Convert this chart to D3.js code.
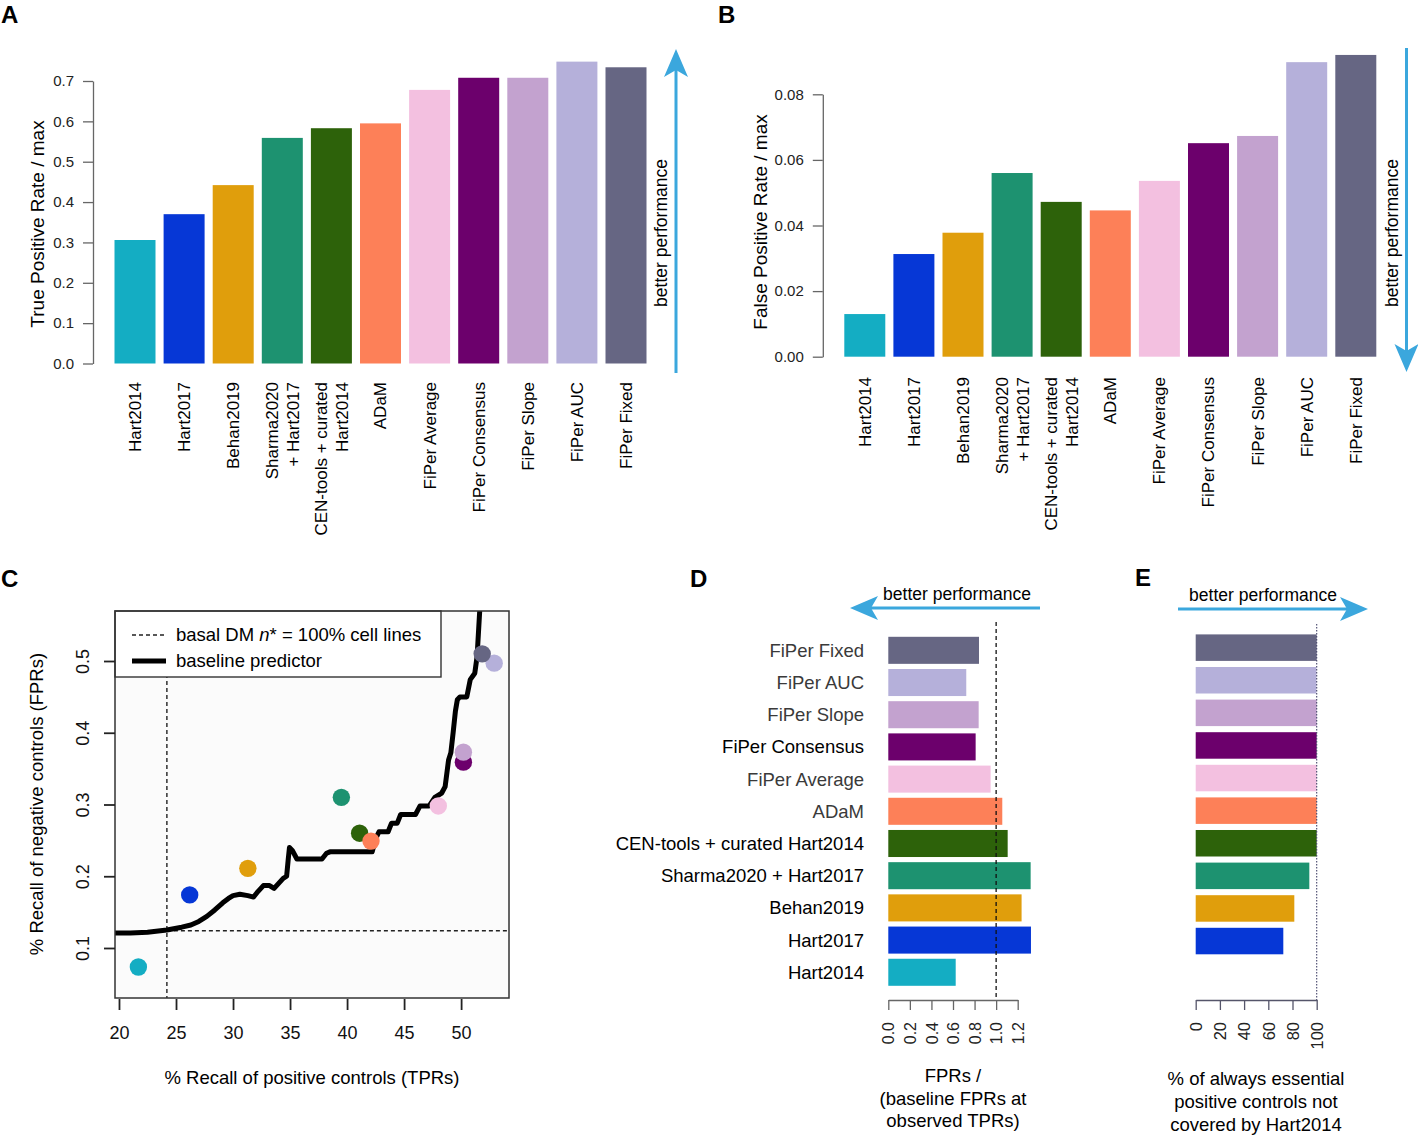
<!DOCTYPE html>
<html lang="en">
<head>
<meta charset="utf-8" />
<title>Predictor performance</title>
<script src="https://d3js.org/d3.v7.min.js"></script>
<style>
  body { margin: 0; background: #fff; }
  svg { display: block; font-family: "Liberation Sans", Arial, Helvetica, sans-serif; }
</style>
</head>
<body>
<svg width="1418" height="1135"></svg>
<script>
// methods, in the order used by panels A, B and C
const methods = ["Hart2014", "Hart2017", "Behan2019", "Sharma2020 + Hart2017",
  "CEN-tools + curated Hart2014", "ADaM", "FiPer Average", "FiPer Consensus",
  "FiPer Slope", "FiPer AUC", "FiPer Fixed"];
// bar labels of A and B are broken on two lines for two methods
const methodLines = [["Hart2014"], ["Hart2017"], ["Behan2019"], ["Sharma2020", "+ Hart2017"],
  ["CEN-tools + curated", "Hart2014"], ["ADaM"], ["FiPer Average"], ["FiPer Consensus"],
  ["FiPer Slope"], ["FiPer AUC"], ["FiPer Fixed"]];
const colors = ["#14adc3", "#0637d6", "#e09e0c", "#1d9270", "#2d620a", "#fd8058",
  "#f3c0e0", "#6c006c", "#c3a2cf", "#b5b0da", "#666683"];

// A: true positive rate / max
const tprMax = [0.306, 0.370, 0.442, 0.559, 0.583, 0.595, 0.678, 0.708, 0.708, 0.748, 0.734];
// B: false positive rate / max
const fprMax = [0.0130, 0.0313, 0.0378, 0.0560, 0.0472, 0.0446, 0.0536, 0.0651, 0.0673, 0.0898, 0.0920];
// C: recall of positive controls (x) and negative controls (y)
const recallPos = [21.7, 26.2, 31.3, 39.5, 41.1, 42.1, 48.0, 50.2, 50.2, 52.9, 51.85];
const recallNeg = [0.0735, 0.174, 0.211, 0.310, 0.260, 0.249, 0.298, 0.359, 0.373, 0.497, 0.510];
// C: baseline predictor curve
const baselineTPR = [19.65, 21, 22.5, 24.2, 25.5, 26.3, 27, 27.7, 28.4, 29.1, 29.6, 30.0, 30.6, 31.3, 31.8,
  32.2, 32.66, 33.2, 33.6, 34.0, 34.4, 34.7, 34.85, 34.95, 35.2, 35.6, 37.8, 38.2, 38.5, 42.2, 42.5, 42.8,
  43.6, 43.9, 44.4, 44.7, 46.0, 46.4, 47.2, 47.7, 48.3, 48.6, 48.9, 49.1, 49.3, 49.5, 49.67, 49.9, 50.5,
  50.8, 51.2, 51.4, 51.65];
const baselineFPR = [0.121, 0.121, 0.122, 0.125, 0.129, 0.132, 0.137, 0.144, 0.153, 0.163, 0.169, 0.173, 0.175, 0.173, 0.171,
  0.179, 0.187, 0.187, 0.183, 0.190, 0.197, 0.200, 0.225, 0.240, 0.236, 0.224, 0.224, 0.232, 0.234, 0.234, 0.252, 0.262,
  0.262, 0.274, 0.274, 0.286, 0.286, 0.298, 0.298, 0.310, 0.316, 0.325, 0.362, 0.372, 0.400, 0.430, 0.446, 0.450, 0.450,
  0.474, 0.483, 0.506, 0.575];
const basalTPR = 24.2, basalFPR = 0.124;
// D: FPRs / baseline FPRs at observed TPRs
const fprRatio = [0.625, 1.323, 1.236, 1.320, 1.107, 1.057, 0.949, 0.810, 0.838, 0.723, 0.841];
// E: % of always essential positive controls not covered by Hart2014
const pctNotCovered = [0, 72.4, 81.5, 93.9, 100, 100, 100, 100, 100, 99.7, 100];

const svg = d3.select("svg");
const arrowBlue = "#3ba7dd";
const axisGrey = "#666";

function panelLabel(t, x, y) {
  svg.append("text").attr("x", x).attr("y", y).attr("font-size", 24)
    .attr("font-weight", "bold").text(t);
}

// notched arrow from (x1,y1) to tip (x2,y2)
function arrow(x1, y1, x2, y2) {
  const a = Math.atan2(y2 - y1, x2 - x1), L = 28, W = 12, notch = 21;
  const ux = Math.cos(a), uy = Math.sin(a), px = -uy, py = ux;
  const bx = x2 - ux * L, by = y2 - uy * L;
  svg.append("line").attr("x1", x1).attr("y1", y1)
    .attr("x2", x2 - ux * notch).attr("y2", y2 - uy * notch)
    .attr("stroke", arrowBlue).attr("stroke-width", 3);
  svg.append("path")
    .attr("d", `M${x2},${y2}L${bx + px * W},${by + py * W}L${x2 - ux * notch},${y2 - uy * notch}L${bx - px * W},${by - py * W}Z`)
    .attr("fill", arrowBlue);
}

function styleAxis(g, col) {
  g.select(".domain").attr("stroke", col).attr("stroke-width", 1.3);
  g.selectAll(".tick line").attr("stroke", col).attr("stroke-width", 1.3);
  g.selectAll(".tick text").attr("fill", "#222").attr("font-family", null);
}

// ---------- A and B: vertical bars ----------
function barPanel(vals, range, y0, yTop, maxVal, nTicks, fmt, labelY, title, titleX, titleY) {
  const x = d3.scaleBand().domain(methods).range(range).paddingInner(0.165).paddingOuter(0);
  const y = d3.scaleLinear().domain([0, maxVal]).range([y0, yTop]);
  const g = svg.append("g");

  g.selectAll("rect").data(vals).join("rect")
    .attr("x", (d, i) => x(methods[i]))
    .attr("y", d => y(d))
    .attr("width", x.bandwidth())
    .attr("height", d => y0 - y(d))
    .attr("fill", (d, i) => colors[i]);

  const ax = g.append("g").attr("transform", `translate(${range[0] - 21.5},0)`)
    .call(d3.axisLeft(y).ticks(nTicks).tickFormat(d3.format(fmt)).tickSize(10).tickPadding(9).tickSizeOuter(0));
  styleAxis(ax, axisGrey);
  ax.selectAll(".tick text").attr("font-size", 15);

  methodLines.forEach((lines, i) => {
    const cx = x(methods[i]) + x.bandwidth() / 2;
    lines.forEach((ln, j) => {
      const off = (j - (lines.length - 1) / 2) * 21;
      g.append("text")
        .attr("transform", `translate(${cx + off},${labelY}) rotate(-90)`)
        .attr("text-anchor", "end").attr("dy", "0.35em")
        .attr("font-size", 17).text(ln);
    });
  });

  g.append("text").attr("transform", `translate(${titleX},${titleY}) rotate(-90)`)
    .attr("text-anchor", "middle").attr("dy", "0.35em").attr("font-size", 19).text(title);
}

barPanel(tprMax, [114.5, 646.5], 363.5, 81, 0.7, 7, ".1f", 382, "True Positive Rate / max", 37, 224);
barPanel(fprMax, [844.3, 1376.3], 356.7, 94.3, 0.08, 4, ".2f", 377, "False Positive Rate / max", 760, 222);

panelLabel("A", 1, 23);
panelLabel("B", 718, 23);

arrow(676, 373, 676, 49);
svg.append("text").attr("transform", "translate(661,233) rotate(-90)")
  .attr("text-anchor", "middle").attr("dy", "0.35em").attr("font-size", 17.5).text("better performance");
arrow(1406.5, 48, 1406.5, 372);
svg.append("text").attr("transform", "translate(1392,233) rotate(-90)")
  .attr("text-anchor", "middle").attr("dy", "0.35em").attr("font-size", 17.5).text("better performance");

// ---------- C: recall scatter ----------
const cx = d3.scaleLinear().domain([19.65, 54.2]).range([115, 509]);
const cy = d3.scaleLinear().domain([0.0303, 0.5697]).range([998, 611]);
const gc = svg.append("g");

gc.append("defs").append("clipPath").attr("id", "clipC").append("rect")
  .attr("x", 115).attr("y", 611).attr("width", 394).attr("height", 387);
gc.append("rect").attr("x", 115).attr("y", 611).attr("width", 394).attr("height", 387).attr("fill", "#fbfbfb");

const plotC = gc.append("g").attr("clip-path", "url(#clipC)");
plotC.append("line").attr("x1", cx(basalTPR)).attr("x2", cx(basalTPR))
  .attr("y1", cy.range()[1]).attr("y2", cy.range()[0])
  .attr("stroke", "#222").attr("stroke-width", 1.4).attr("stroke-dasharray", "4,3");
plotC.append("line").attr("x1", cx(basalTPR)).attr("x2", cx.range()[1])
  .attr("y1", cy(basalFPR)).attr("y2", cy(basalFPR))
  .attr("stroke", "#222").attr("stroke-width", 1.4).attr("stroke-dasharray", "4,3");
plotC.append("path")
  .datum(baselineTPR.map((t, i) => [t, baselineFPR[i]]))
  .attr("d", d3.line().x(d => cx(d[0])).y(d => cy(d[1])))
  .attr("fill", "none").attr("stroke", "#000").attr("stroke-width", 5).attr("stroke-linejoin", "round");
plotC.selectAll("circle").data(recallPos).join("circle")
  .attr("cx", d => cx(d)).attr("cy", (d, i) => cy(recallNeg[i]))
  .attr("r", 8.7).attr("fill", (d, i) => colors[i]);

// legend
const leg = gc.append("g");
leg.append("rect").attr("x", 115).attr("y", 611).attr("width", 326).attr("height", 66)
  .attr("fill", "#fff").attr("stroke", "#333").attr("stroke-width", 1.4);
leg.append("line").attr("x1", 132).attr("x2", 166).attr("y1", 635).attr("y2", 635)
  .attr("stroke", "#222").attr("stroke-width", 1.4).attr("stroke-dasharray", "4,3");
leg.append("line").attr("x1", 132).attr("x2", 166).attr("y1", 661).attr("y2", 661)
  .attr("stroke", "#000").attr("stroke-width", 5);
const t1 = leg.append("text").attr("x", 176).attr("y", 635).attr("dy", "0.35em").attr("font-size", 18.5);
t1.append("tspan").text("basal DM ");
t1.append("tspan").attr("font-style", "italic").text("n");
t1.append("tspan").text("* = 100% cell lines");
leg.append("text").attr("x", 176).attr("y", 661).attr("dy", "0.35em").attr("font-size", 18.5).text("baseline predictor");

gc.append("rect").attr("x", 115).attr("y", 611).attr("width", 394).attr("height", 387)
  .attr("fill", "none").attr("stroke", "#333").attr("stroke-width", 1.5);

const axCx = gc.append("g").attr("transform", "translate(0,999)")
  .call(d3.axisBottom(cx).tickValues([20, 25, 30, 35, 40, 45, 50]).tickFormat(d3.format("d")).tickSize(11).tickPadding(16));
axCx.select(".domain").remove();
axCx.selectAll(".tick line").attr("stroke", "#222").attr("stroke-width", 1.8);
axCx.selectAll(".tick text").attr("fill", "#111").attr("font-size", 18).attr("font-family", null);

const axCy = gc.append("g").attr("transform", "translate(115,0)")
  .call(d3.axisLeft(cy).tickValues([0.1, 0.2, 0.3, 0.4, 0.5]).tickFormat(d3.format(".1f")).tickSize(11));
axCy.select(".domain").remove();
axCy.selectAll(".tick line").attr("stroke", "#222").attr("stroke-width", 1.8);
axCy.selectAll(".tick text").attr("fill", "#111").attr("font-size", 18).attr("font-family", null)
  .attr("x", null).attr("dy", "0.35em").attr("text-anchor", "middle")
  .attr("transform", "translate(-32,0) rotate(-90)");

gc.append("text").attr("x", 312).attr("y", 1078).attr("dy", "0.35em").attr("text-anchor", "middle")
  .attr("font-size", 18.5).text("% Recall of positive controls (TPRs)");
gc.append("text").attr("transform", "translate(37,804) rotate(-90)").attr("text-anchor", "middle")
  .attr("dy", "0.35em").attr("font-size", 18.5).text("% Recall of negative controls (FPRs)");
panelLabel("C", 1, 587);

// ---------- D: FPR ratio ----------
const order = methods.slice().reverse();
const lightLabels = new Set(["FiPer Fixed", "FiPer AUC", "FiPer Slope", "FiPer Average", "ADaM"]);
const dY = d3.scaleBand().domain(order).range([636.8, 985.8]).paddingInner(0.16).paddingOuter(0);
const dX = d3.scaleLinear().domain([0, 1.2]).range([888.3, 1017.7]);
const gd = svg.append("g");

gd.selectAll("rect").data(fprRatio).join("rect")
  .attr("x", dX(0)).attr("y", (d, i) => dY(methods[i]))
  .attr("width", d => dX(d) - dX(0)).attr("height", dY.bandwidth())
  .attr("fill", (d, i) => colors[i]);
gd.append("line").attr("x1", dX(1)).attr("x2", dX(1)).attr("y1", 622).attr("y2", 1000)
  .attr("stroke", "#111").attr("stroke-width", 1.3).attr("stroke-dasharray", "4,3");
gd.selectAll("text.lab").data(methods).join("text").attr("class", "lab")
  .attr("x", 864).attr("y", d => dY(d) + dY.bandwidth() / 2).attr("dy", "0.35em")
  .attr("text-anchor", "end").attr("font-size", 18.5)
  .attr("fill", d => lightLabels.has(d) ? "#3a3a3a" : "#000")
  .text(d => d);

const axD = gd.append("g").attr("transform", "translate(0,1000)")
  .call(d3.axisBottom(dX).tickValues([0, 0.2, 0.4, 0.6, 0.8, 1.0, 1.2]).tickFormat(d3.format(".1f")).tickSize(10).tickSizeOuter(0));
styleAxis(axD, axisGrey);
axD.selectAll(".tick text").attr("font-size", 16).attr("y", null).attr("dy", "0.35em")
  .attr("text-anchor", "end").attr("transform", "translate(0,22) rotate(-90)");

["FPRs /", "(baseline FPRs at", "observed TPRs)"].forEach((s, i) => {
  gd.append("text").attr("x", 953).attr("y", 1076 + i * 22.5).attr("dy", "0.35em")
    .attr("text-anchor", "middle").attr("font-size", 18.5).text(s);
});
panelLabel("D", 690, 587);
arrow(1040, 608, 850, 608);
svg.append("text").attr("x", 957).attr("y", 600).attr("text-anchor", "middle")
  .attr("font-size", 17.5).text("better performance");

// ---------- E: % not covered by Hart2014 ----------
const eY = d3.scaleBand().domain(order).range([634.4, 986.9]).paddingInner(0.187).paddingOuter(0);
const eX = d3.scaleLinear().domain([0, 100]).range([1195.7, 1316.7]);
const ge = svg.append("g");

ge.selectAll("rect").data(pctNotCovered).join("rect")
  .attr("x", eX(0)).attr("y", (d, i) => eY(methods[i]))
  .attr("width", d => eX(d) - eX(0)).attr("height", eY.bandwidth())
  .attr("fill", (d, i) => colors[i]);
ge.append("line").attr("x1", eX(100)).attr("x2", eX(100)).attr("y1", 624).attr("y2", 1000)
  .attr("stroke", "#44446a").attr("stroke-width", 1.1).attr("stroke-dasharray", "1.5,1.5");

const axE = ge.append("g").attr("transform", "translate(0,1000)")
  .call(d3.axisBottom(eX).tickValues([0, 20, 40, 60, 80, 100]).tickFormat(d3.format("d")).tickSize(10).tickSizeOuter(0));
styleAxis(axE, "#55556a");
axE.selectAll(".tick text").attr("font-size", 16.5).attr("y", null).attr("dy", "0.35em")
  .attr("text-anchor", "end").attr("transform", "translate(0,22) rotate(-90)");

["% of always essential", "positive controls not", "covered by Hart2014"].forEach((s, i) => {
  ge.append("text").attr("x", 1256).attr("y", 1079 + i * 23).attr("dy", "0.35em")
    .attr("text-anchor", "middle").attr("font-size", 18.5).text(s);
});
panelLabel("E", 1135, 586);
arrow(1178, 609, 1368, 609);
svg.append("text").attr("x", 1263).attr("y", 601).attr("text-anchor", "middle")
  .attr("font-size", 17.5).text("better performance");
</script>
</body>
</html>
